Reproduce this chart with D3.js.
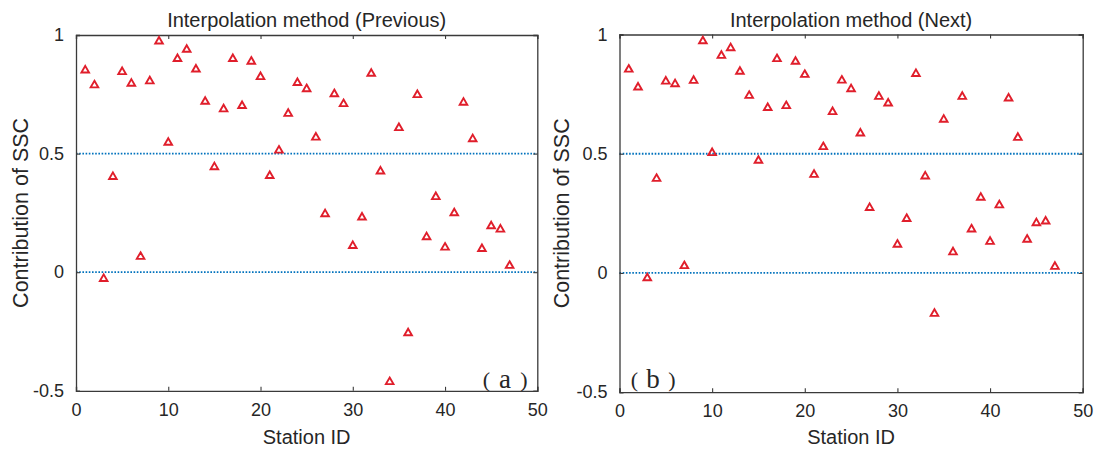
<!DOCTYPE html>
<html>
<head>
<meta charset="utf-8">
<script src="https://cdn.jsdelivr.net/npm/d3@7"></script>
<style>
  html, body { margin: 0; padding: 0; background: #ffffff; }
  svg { display: block; }
  text { font-family: "Liberation Sans", Arial, sans-serif; fill: #262626; }
</style>
</head>
<body>
<svg id="chart" width="1097" height="450"></svg>
<script>
// Station identifiers on the x axis
const stations = [1, 2, 3, 4, 5, 6, 7, 8, 9, 10, 11, 12, 13, 14, 15, 16, 17, 18, 19, 20,
  21, 22, 23, 24, 25, 26, 27, 28, 29, 30, 31, 32, 33, 34, 35, 36, 37, 38, 39, 40,
  41, 42, 43, 44, 45, 46, 47];

// Contribution of SSC per station, "Previous" interpolation
const previousValues = [0.856, 0.793, -0.023, 0.407, 0.849, 0.800, 0.070, 0.810, 0.978, 0.551,
  0.904, 0.943, 0.860, 0.724, 0.448, 0.692, 0.904, 0.706, 0.893, 0.828,
  0.411, 0.518, 0.673, 0.803, 0.777, 0.573, 0.250, 0.756, 0.714, 0.116,
  0.236, 0.842, 0.430, -0.458, 0.613, -0.252, 0.752, 0.153, 0.322, 0.109,
  0.254, 0.720, 0.566, 0.103, 0.199, 0.185, 0.032];

// Contribution of SSC per station, "Next" interpolation
const nextValues = [0.858, 0.783, -0.017, 0.400, 0.808, 0.797, 0.034, 0.811, 0.977, 0.508,
  0.916, 0.948, 0.849, 0.748, 0.476, 0.697, 0.902, 0.705, 0.891, 0.836,
  0.417, 0.533, 0.680, 0.812, 0.776, 0.590, 0.278, 0.744, 0.716, 0.124,
  0.232, 0.840, 0.410, -0.166, 0.648, 0.092, 0.744, 0.188, 0.321, 0.136,
  0.289, 0.737, 0.572, 0.145, 0.214, 0.221, 0.031];

// Axis ticks and reference levels
const xTicks = [0, 10, 20, 30, 40, 50];
const yTicks = [-0.5, 0, 0.5, 1];
const yTickLabels = ["-0.5", "0", "0.5", "1"];
const referenceLevels = [0.5, 0];

const panels = [
  { title: "Interpolation method (Previous)", tag: "a", values: previousValues,
    left: 76, right: 537.3, top: 35, bottom: 390.8, tagX: 505, ylabX: 20 },
  { title: "Interpolation method (Next)", tag: "b", values: nextValues,
    left: 619.5, right: 1082.7, top: 34.5, bottom: 392.2, tagX: 653, ylabX: 561 }
];

const svg = d3.select("#chart");
const axisColor = "#3a3a3a";
const markerColor = "#e01e2b";
const refColor = "#0072bd";

panels.forEach(p => {
  const x = d3.scaleLinear().domain([0, 50]).range([p.left, p.right]);
  const y = d3.scaleLinear().domain([-0.5, 1]).range([p.bottom, p.top]);
  const g = svg.append("g");

  // reference lines
  g.selectAll("line.ref").data(referenceLevels).join("line")
    .attr("class", "ref")
    .attr("x1", x(0)).attr("x2", x(50))
    .attr("y1", d => y(d)).attr("y2", d => y(d))
    .attr("stroke", refColor).attr("stroke-width", 1.8)
    .attr("stroke-dasharray", "1.6,1.6");

  // axes: bottom / left with labels, top / right mirrored ticks
  const tickLen = 4;
  const bottomAxis = d3.axisBottom(x).tickValues(xTicks).tickSize(-tickLen).tickPadding(12)
    .tickFormat(d3.format("d"));
  const topAxis = d3.axisTop(x).tickValues(xTicks).tickSize(-tickLen).tickFormat("");
  const leftAxis = d3.axisLeft(y).tickValues(yTicks).tickSize(-tickLen).tickPadding(12)
    .tickFormat((d, i) => yTickLabels[i]);
  const rightAxis = d3.axisRight(y).tickValues(yTicks).tickSize(-tickLen).tickFormat("");

  const styleAxis = sel => {
    sel.select(".domain").attr("stroke", axisColor).attr("stroke-width", 1.3);
    sel.selectAll(".tick line").attr("stroke", axisColor).attr("stroke-width", 1.1);
    sel.selectAll(".tick text").attr("fill", "#262626")
      .style("font-family", "'Liberation Sans', Arial, sans-serif").style("font-size", "18px");
  };

  g.append("g").attr("transform", `translate(0,${p.bottom})`).call(bottomAxis).call(styleAxis);
  g.append("g").attr("transform", `translate(0,${p.top})`).call(topAxis).call(styleAxis);
  g.append("g").attr("transform", `translate(${p.left},0)`).call(leftAxis).call(styleAxis);
  g.append("g").attr("transform", `translate(${p.right},0)`).call(rightAxis).call(styleAxis);

  // triangle markers
  const w = 7.6, h = 6.6;
  const tri = `M0,${-h / 2}L${w / 2},${h / 2}L${-w / 2},${h / 2}Z`;
  g.selectAll("path.pt").data(stations).join("path")
    .attr("class", "pt")
    .attr("d", tri)
    .attr("transform", (s, i) => `translate(${x(s)},${y(p.values[i])})`)
    .attr("fill", "none")
    .attr("stroke", markerColor)
    .attr("stroke-width", 1.9)
    .attr("stroke-linejoin", "miter");

  // title
  g.append("text")
    .attr("x", (p.left + p.right) / 2).attr("y", 27)
    .attr("text-anchor", "middle")
    .style("font-size", "20px")
    .text(p.title);

  // x label
  g.append("text")
    .attr("x", (p.left + p.right) / 2).attr("y", 444)
    .attr("text-anchor", "middle")
    .style("font-size", "20px")
    .text("Station ID");

  // y label
  g.append("text")
    .attr("transform", `translate(${p.ylabX},${(p.top + p.bottom) / 2}) rotate(-90)`)
    .attr("text-anchor", "middle")
    .attr("dy", "0.35em")
    .style("font-size", "21.5px")
    .text("Contribution of SSC");

  // panel tag: wide-set brackets around the letter
  const tag = g.append("text")
    .attr("y", 388)
    .attr("text-anchor", "middle")
    .style("font-family", "'Liberation Serif', serif")
    .attr("fill", "#111");
  tag.append("tspan").attr("x", p.tagX - 18.5).attr("dy", -1).style("font-size", "22px").text("(");
  tag.append("tspan").attr("x", p.tagX).attr("dy", 1).style("font-size", "27px").text(p.tag);
  tag.append("tspan").attr("x", p.tagX + 19).attr("dy", -1).style("font-size", "22px").text(")");
});
</script>
</body>
</html>
